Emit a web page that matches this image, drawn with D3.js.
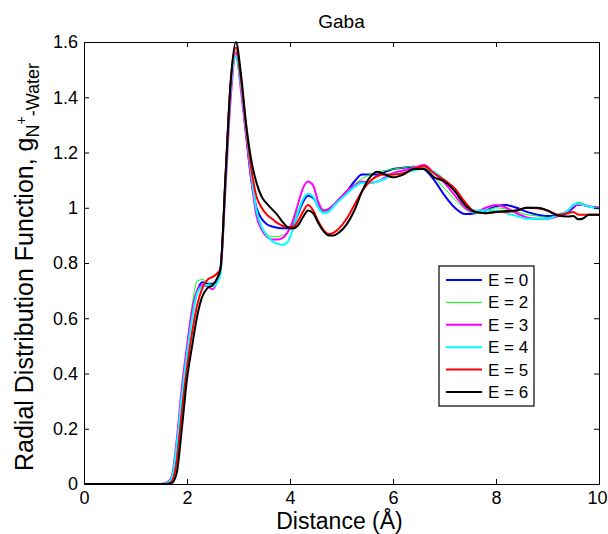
<!DOCTYPE html>
<html>
<head>
<meta charset="utf-8">
<script src="https://cdn.jsdelivr.net/npm/d3@7"></script>
<style>
  html, body { margin: 0; padding: 0; background: #fff; }
  svg { display: block; }
  text { font-family: "Liberation Sans", Arial, sans-serif; fill: #000; }
</style>
</head>
<body>
<svg id="chart" width="608" height="534"></svg>
<script>
// ---------- data ----------
const distance = [0, 1.5, 1.6, 1.7, 1.8, 1.9, 2.0, 2.1, 2.2, 2.3, 2.4, 2.5, 2.6, 2.65, 2.75, 2.85, 2.95,
  3.05, 3.15, 3.25, 3.35, 3.45, 3.55, 3.65, 3.75, 3.85, 3.95, 4.05, 4.15, 4.25, 4.35, 4.45, 4.55, 4.65, 4.75, 4.85, 4.95,
  5.1, 5.25, 5.4, 5.55, 5.7, 5.85,
  6.0, 6.2, 6.4, 6.6, 6.8, 7.0, 7.2, 7.4, 7.6, 7.8, 8.0, 8.2, 8.4, 8.6, 8.8, 9.0, 9.2, 9.4,
  9.5, 9.6, 9.7, 9.8, 10];

const gE0 = [0, 0, 0.003, 0.02, 0.13, 0.32, 0.48, 0.62, 0.70, 0.73, 0.725, 0.725, 0.75, 0.775, 1.12, 1.45, 1.55,
  1.44, 1.26, 1.10, 1.0, 0.96, 0.94, 0.932, 0.928, 0.926, 0.926, 0.935, 0.975, 1.02, 1.043, 1.035, 1.005, 0.99, 0.995, 1.01, 1.03,
  1.058, 1.095, 1.12, 1.12, 1.12, 1.13,
  1.14, 1.145, 1.148, 1.14, 1.10, 1.045, 1.0, 0.977, 0.98, 0.99, 1.005, 1.01, 1.0, 0.985, 0.975, 0.97, 0.97, 0.985,
  1.0, 1.015, 1.01, 1.005, 1.0];

const gE2 = [0, 0, 0.003, 0.02, 0.15, 0.34, 0.50, 0.65, 0.735, 0.74, 0.73, 0.72, 0.75, 0.775, 1.12, 1.45, 1.57,
  1.44, 1.27, 1.11, 0.985, 0.93, 0.905, 0.895, 0.895, 0.90, 0.91, 0.94, 0.99, 1.03, 1.05, 1.04, 1.005, 0.985, 0.99, 1.005, 1.025,
  1.055, 1.085, 1.105, 1.12, 1.13, 1.135,
  1.14, 1.145, 1.15, 1.145, 1.11, 1.07, 1.03, 0.995, 0.98, 0.99, 1.0, 0.995, 0.985, 0.975, 0.97, 0.965, 0.97, 0.99,
  1.01, 1.02, 1.015, 1.005, 1.0];

const gE3 = [0, 0, 0.005, 0.025, 0.16, 0.35, 0.50, 0.63, 0.70, 0.72, 0.715, 0.705, 0.74, 0.77, 1.08, 1.40, 1.56,
  1.42, 1.26, 1.10, 0.97, 0.92, 0.895, 0.885, 0.885, 0.89, 0.91, 0.95, 1.01, 1.07, 1.095, 1.08, 1.02, 0.99, 0.995, 1.01, 1.03,
  1.06, 1.08, 1.095, 1.09, 1.095, 1.11,
  1.125, 1.135, 1.145, 1.155, 1.125, 1.09, 1.045, 1.0, 0.985, 1.0, 1.01, 1.0, 0.98, 0.965, 0.96, 0.96, 0.97, 0.99,
  1.005, 1.01, 1.01, 1.005, 1.0];

const gE4 = [0, 0, 0.003, 0.02, 0.14, 0.32, 0.47, 0.60, 0.69, 0.715, 0.72, 0.715, 0.735, 0.76, 1.10, 1.43, 1.55,
  1.44, 1.28, 1.12, 0.99, 0.93, 0.90, 0.88, 0.87, 0.865, 0.875, 0.92, 0.98, 1.03, 1.05, 1.04, 1.0, 0.98, 0.985, 1.005, 1.025,
  1.05, 1.075, 1.09, 1.09, 1.095, 1.105,
  1.12, 1.125, 1.135, 1.14, 1.13, 1.10, 1.06, 1.01, 0.99, 0.99, 0.99, 0.98, 0.97, 0.96, 0.96, 0.96, 0.975, 0.99,
  1.01, 1.015, 1.01, 1.005, 0.995];

const gE5 = [0, 0, 0, 0.008, 0.08, 0.26, 0.42, 0.55, 0.65, 0.71, 0.74, 0.75, 0.765, 0.78, 1.12, 1.46, 1.58,
  1.46, 1.29, 1.14, 1.04, 1.0, 0.975, 0.96, 0.945, 0.935, 0.93, 0.93, 0.95, 0.985, 1.01, 0.99, 0.95, 0.92, 0.905, 0.91, 0.925,
  0.96, 1.01, 1.06, 1.095, 1.115, 1.12,
  1.12, 1.125, 1.14, 1.15, 1.125, 1.10, 1.07, 1.02, 0.985, 0.98, 0.985, 0.985, 0.99, 1.0, 0.998, 0.99, 0.975, 0.98,
  0.985, 0.975, 0.975, 0.975, 0.975];

const gE6 = [0, 0, 0, 0.003, 0.04, 0.20, 0.38, 0.50, 0.61, 0.68, 0.71, 0.72, 0.75, 0.78, 1.12, 1.46, 1.60,
  1.48, 1.30, 1.17, 1.09, 1.04, 1.015, 0.995, 0.975, 0.95, 0.93, 0.925, 0.935, 0.965, 0.99, 0.98, 0.945, 0.915, 0.90, 0.90, 0.91,
  0.94, 0.99, 1.06, 1.11, 1.13, 1.12,
  1.11, 1.12, 1.14, 1.14, 1.11, 1.095, 1.06, 1.01, 0.985, 0.98, 0.985, 0.988, 0.99, 1.0, 1.0, 0.99, 0.972, 0.968,
  0.97, 0.958, 0.962, 0.975, 0.975];

const seriesNames = ["E = 0", "E = 2", "E = 3", "E = 4", "E = 5", "E = 6"];
const seriesValues = [gE0, gE2, gE3, gE4, gE5, gE6];
const seriesColors = ["#0000ff", "#00ff00", "#ff00ff", "#00ffff", "#ff0000", "#000000"];
const seriesWidths = [2, 1, 2, 2, 2, 2];

const xTicks = [0, 2, 4, 6, 8, 10];
const yTicks = [0, 0.2, 0.4, 0.6, 0.8, 1, 1.2, 1.4, 1.6];
const titleText = "Gaba";
const xLabel = "Distance (Å)";

// ---------- layout ----------
const L = 84, R = 599, T = 42, B = 484;
const svg = d3.select("#chart");
const x = d3.scaleLinear().domain([0, 10]).range([L, R]);
const y = d3.scaleLinear().domain([0, 1.6]).range([B, T]);

svg.append("defs").append("clipPath").attr("id", "clip")
  .append("rect").attr("x", L).attr("y", T - 1).attr("width", R - L).attr("height", B - T + 2);

// lines
const line = d3.line().x((d, i) => x(distance[i])).y(d => y(d)).curve(d3.curveMonotoneX);
const gLines = svg.append("g").attr("clip-path", "url(#clip)");
seriesValues.forEach((vals, k) => {
  gLines.append("path")
    .attr("d", line(vals))
    .attr("fill", "none")
    .attr("stroke", seriesColors[k])
    .attr("stroke-width", seriesWidths[k])
    .attr("stroke-linejoin", "round");
});

// axes (MATLAB style: inward ticks on all sides)
const tickLen = 5;
const axB = d3.axisBottom(x).tickValues(xTicks).tickSizeInner(-tickLen).tickSizeOuter(0).tickPadding(7).tickFormat(d3.format("d"));
const axT = d3.axisTop(x).tickValues(xTicks).tickSizeInner(-tickLen).tickSizeOuter(0).tickFormat("");
const axL = d3.axisLeft(y).tickValues(yTicks).tickSizeInner(-tickLen).tickSizeOuter(0).tickPadding(6).tickFormat(d => String(+d.toFixed(1)));
const axR = d3.axisRight(y).tickValues(yTicks).tickSizeInner(-tickLen).tickSizeOuter(0).tickFormat("");

function styleAxis(g) {
  g.select(".domain").attr("stroke", "#000").attr("stroke-width", 1);
  g.selectAll(".tick line").attr("stroke", "#000").attr("stroke-width", 1);
  g.selectAll(".tick text").attr("font-size", 18).attr("font-family", "Liberation Sans, Arial, sans-serif").attr("fill", "#000");
}
const gxB = svg.append("g").attr("transform", `translate(0,${B})`).call(axB).call(styleAxis);
gxB.selectAll(".tick text").filter(d => d === 10).attr("dx", -2);
svg.append("g").attr("transform", `translate(0,${T})`).call(axT).call(styleAxis);
svg.append("g").attr("transform", `translate(${L},0)`).call(axL).call(styleAxis);
svg.append("g").attr("transform", `translate(${R},0)`).call(axR).call(styleAxis);

// title
svg.append("text").attr("x", (L + R) / 2).attr("y", 28).attr("text-anchor", "middle")
  .attr("font-size", 19).text(titleText);

// x label
svg.append("text").attr("x", (L + R) / 2 - 2).attr("y", 529).attr("text-anchor", "middle")
  .attr("font-size", 23).text(xLabel);

// y label with sub/superscripts
const yl = svg.append("text").attr("transform", "translate(33,471) rotate(-90)")
  .attr("text-anchor", "start").attr("font-size", 25);
yl.append("tspan").text("Radial Distribution Function, g");
yl.append("tspan").attr("font-size", 18).attr("dy", 6).text("N");
yl.append("tspan").attr("font-size", 14).attr("dy", -13).text("+");
yl.append("tspan").attr("font-size", 18).attr("dy", 13).text("-Water");

// legend
const lgX = 439, lgY = 266, lgW = 95, lgH = 140;
const lg = svg.append("g");
lg.append("rect").attr("x", lgX).attr("y", lgY).attr("width", lgW).attr("height", lgH)
  .attr("fill", "#fff").attr("stroke", "#000").attr("stroke-width", 1.2);
seriesNames.forEach((name, k) => {
  const cy = 280 + k * 22.4;
  lg.append("line").attr("x1", 446).attr("x2", 482).attr("y1", cy).attr("y2", cy)
    .attr("stroke", seriesColors[k]).attr("stroke-width", seriesWidths[k]);
  lg.append("text").attr("x", 488).attr("y", cy + 6).attr("font-size", 17).text(name);
});
</script>
</body>
</html>
